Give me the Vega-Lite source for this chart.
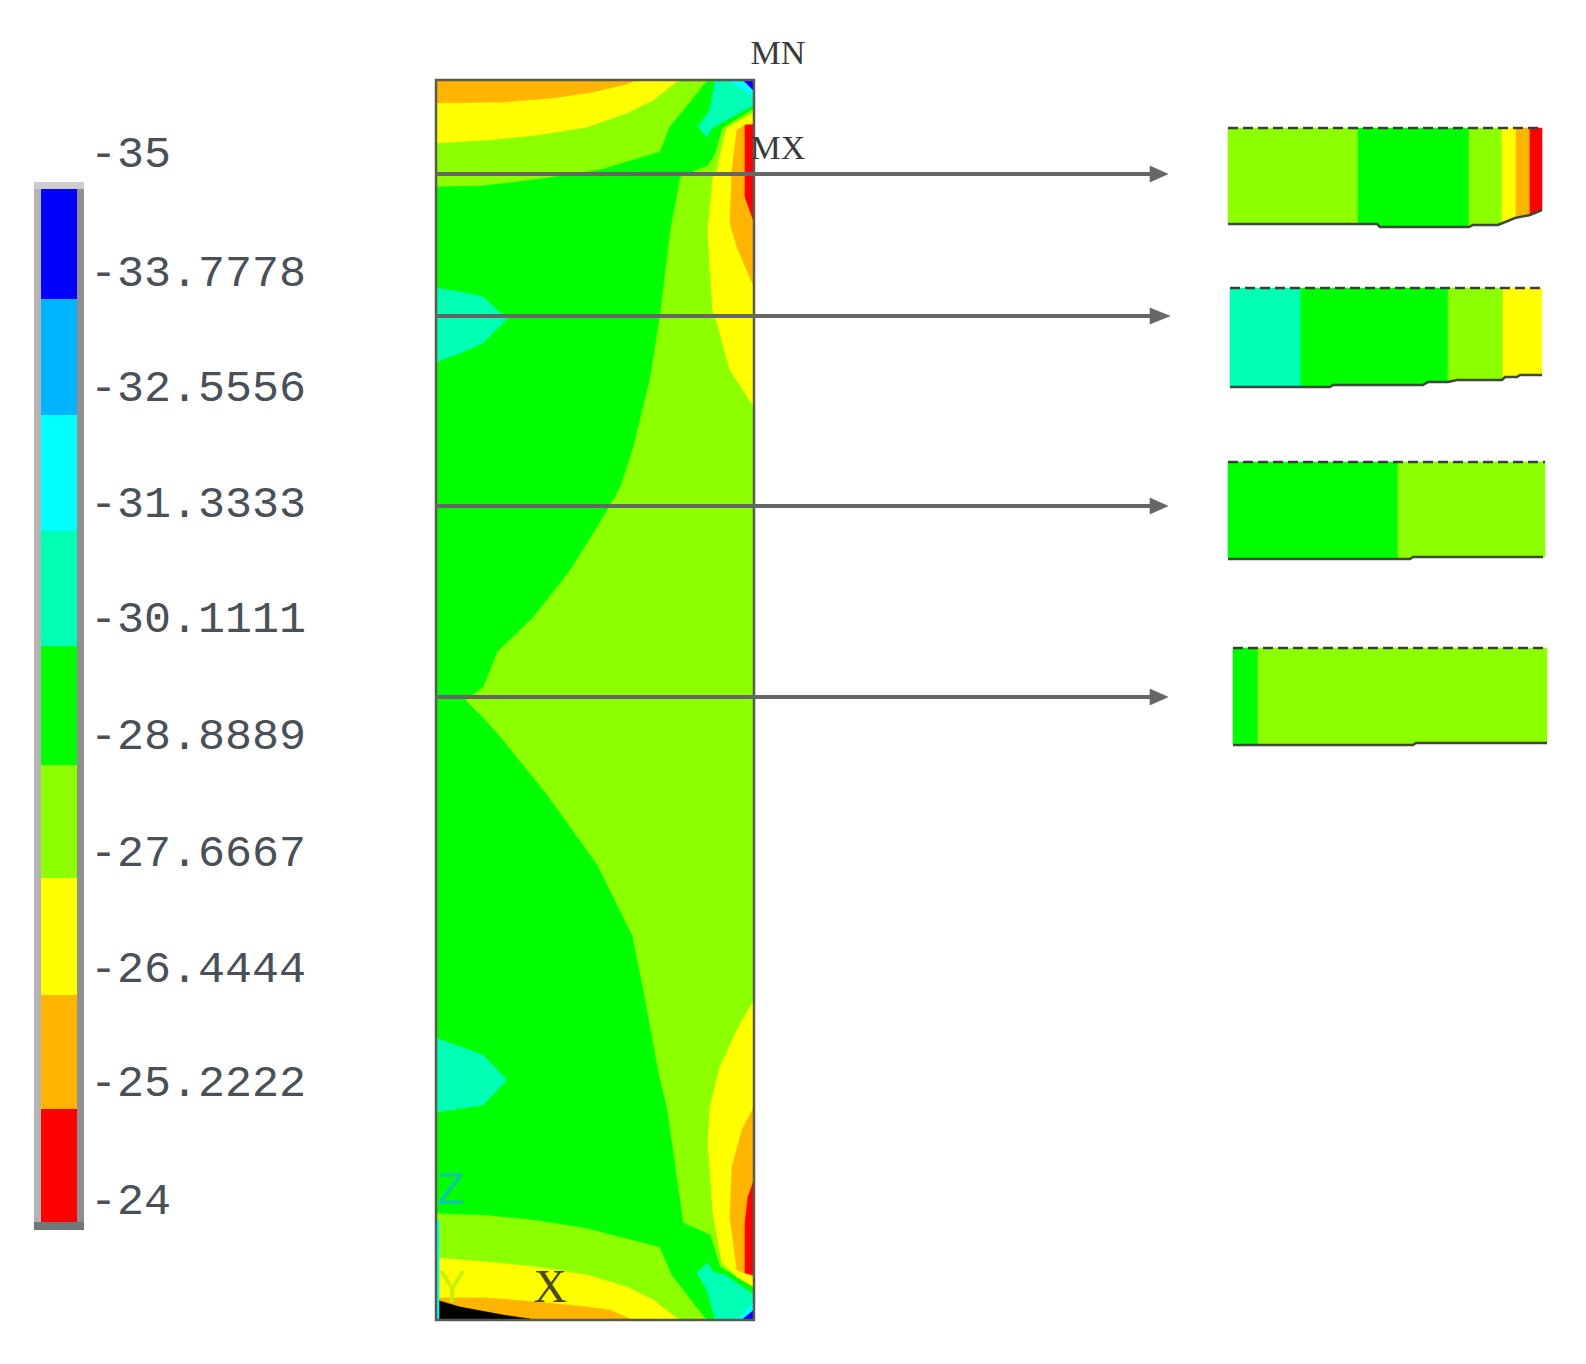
{"$schema":"https://vega.github.io/schema/vega-lite/v6.json","width":1586,"height":1364,"autosize":{"type":"fit","contains":"padding"},"padding":0,"background":"white","view":{"stroke":null},
"datasets":{
"poly":[
{"s":"p01","i":0,"b":"-28.8889","x":436,"y":80},{"s":"p01","i":1,"b":"-28.8889","x":754,"y":80},{"s":"p01","i":2,"b":"-28.8889","x":754,"y":1320},{"s":"p01","i":3,"b":"-28.8889","x":436,"y":1320},
{"s":"p02","i":0,"b":"-27.6667","x":436,"y":80},{"s":"p02","i":1,"b":"-27.6667","x":679,"y":80},{"s":"p02","i":2,"b":"-27.6667","x":653,"y":100},{"s":"p02","i":3,"b":"-27.6667","x":627,"y":113},{"s":"p02","i":4,"b":"-27.6667","x":587,"y":127},{"s":"p02","i":5,"b":"-27.6667","x":537,"y":135},{"s":"p02","i":6,"b":"-27.6667","x":487,"y":140},{"s":"p02","i":7,"b":"-27.6667","x":436,"y":143},
{"s":"p03","i":0,"b":"-26.4444","x":436,"y":80},{"s":"p03","i":1,"b":"-26.4444","x":636,"y":80},{"s":"p03","i":2,"b":"-26.4444","x":627,"y":84},{"s":"p03","i":3,"b":"-26.4444","x":593,"y":92},{"s":"p03","i":4,"b":"-26.4444","x":553,"y":98},{"s":"p03","i":5,"b":"-26.4444","x":503,"y":102},{"s":"p03","i":6,"b":"-26.4444","x":436,"y":103},
{"s":"p04","i":0,"b":"-30.1111","x":436,"y":187},{"s":"p04","i":1,"b":"-30.1111","x":483,"y":186},{"s":"p04","i":2,"b":"-30.1111","x":533,"y":180},{"s":"p04","i":3,"b":"-30.1111","x":560,"y":176},{"s":"p04","i":4,"b":"-30.1111","x":600,"y":170},{"s":"p04","i":5,"b":"-30.1111","x":660,"y":152},{"s":"p04","i":6,"b":"-30.1111","x":670,"y":127},{"s":"p04","i":7,"b":"-30.1111","x":708,"y":80},{"s":"p04","i":8,"b":"-30.1111","x":754,"y":80},{"s":"p04","i":9,"b":"-30.1111","x":754,"y":108},{"s":"p04","i":10,"b":"-30.1111","x":722,"y":128},{"s":"p04","i":11,"b":"-30.1111","x":715,"y":153},{"s":"p04","i":12,"b":"-30.1111","x":708,"y":165},{"s":"p04","i":13,"b":"-30.1111","x":680,"y":177},{"s":"p04","i":14,"b":"-30.1111","x":670,"y":230},{"s":"p04","i":15,"b":"-30.1111","x":660,"y":313},{"s":"p04","i":16,"b":"-30.1111","x":650,"y":377},{"s":"p04","i":17,"b":"-30.1111","x":633,"y":447},{"s":"p04","i":18,"b":"-30.1111","x":620,"y":487},{"s":"p04","i":19,"b":"-30.1111","x":607,"y":510},{"s":"p04","i":20,"b":"-30.1111","x":570,"y":570},{"s":"p04","i":21,"b":"-30.1111","x":533,"y":617},{"s":"p04","i":22,"b":"-30.1111","x":497,"y":652},{"s":"p04","i":23,"b":"-30.1111","x":483,"y":687},{"s":"p04","i":24,"b":"-30.1111","x":472,"y":695},{"s":"p04","i":25,"b":"-30.1111","x":465,"y":700},{"s":"p04","i":26,"b":"-30.1111","x":483,"y":718},{"s":"p04","i":27,"b":"-30.1111","x":501,"y":738},{"s":"p04","i":28,"b":"-30.1111","x":546,"y":794},{"s":"p04","i":29,"b":"-30.1111","x":597,"y":865},{"s":"p04","i":30,"b":"-30.1111","x":632,"y":936},{"s":"p04","i":31,"b":"-30.1111","x":645,"y":1000},{"s":"p04","i":32,"b":"-30.1111","x":658,"y":1072},{"s":"p04","i":33,"b":"-30.1111","x":667,"y":1110},{"s":"p04","i":34,"b":"-30.1111","x":683,"y":1223},{"s":"p04","i":35,"b":"-30.1111","x":710,"y":1235},{"s":"p04","i":36,"b":"-30.1111","x":720,"y":1267},{"s":"p04","i":37,"b":"-30.1111","x":754,"y":1287},{"s":"p04","i":38,"b":"-30.1111","x":754,"y":1320},{"s":"p04","i":39,"b":"-30.1111","x":707,"y":1320},{"s":"p04","i":40,"b":"-30.1111","x":672,"y":1275},{"s":"p04","i":41,"b":"-30.1111","x":660,"y":1247},{"s":"p04","i":42,"b":"-30.1111","x":587,"y":1228},{"s":"p04","i":43,"b":"-30.1111","x":537,"y":1220},{"s":"p04","i":44,"b":"-30.1111","x":487,"y":1215},{"s":"p04","i":45,"b":"-30.1111","x":436,"y":1213},
{"s":"p05","i":0,"b":"-31.3333","x":715,"y":81},{"s":"p05","i":1,"b":"-31.3333","x":710,"y":110},{"s":"p05","i":2,"b":"-31.3333","x":698,"y":127},{"s":"p05","i":3,"b":"-31.3333","x":707,"y":137},{"s":"p05","i":4,"b":"-31.3333","x":712,"y":128},{"s":"p05","i":5,"b":"-31.3333","x":750,"y":107},{"s":"p05","i":6,"b":"-31.3333","x":754,"y":105},{"s":"p05","i":7,"b":"-31.3333","x":754,"y":81},
{"s":"p06","i":0,"b":"-32.5556","x":730,"y":81},{"s":"p06","i":1,"b":"-32.5556","x":754,"y":97},{"s":"p06","i":2,"b":"-32.5556","x":754,"y":81},
{"s":"p07","i":0,"b":"-35","x":744,"y":81},{"s":"p07","i":1,"b":"-35","x":754,"y":91},{"s":"p07","i":2,"b":"-35","x":754,"y":81},
{"s":"p08","i":0,"b":"-27.6667","x":754,"y":113},{"s":"p08","i":1,"b":"-27.6667","x":727,"y":128},{"s":"p08","i":2,"b":"-27.6667","x":722,"y":147},{"s":"p08","i":3,"b":"-27.6667","x":717,"y":170},{"s":"p08","i":4,"b":"-27.6667","x":713,"y":177},{"s":"p08","i":5,"b":"-27.6667","x":708,"y":230},{"s":"p08","i":6,"b":"-27.6667","x":710,"y":270},{"s":"p08","i":7,"b":"-27.6667","x":713,"y":313},{"s":"p08","i":8,"b":"-27.6667","x":717,"y":323},{"s":"p08","i":9,"b":"-27.6667","x":730,"y":370},{"s":"p08","i":10,"b":"-27.6667","x":754,"y":407},
{"s":"p09","i":0,"b":"-26.4444","x":754,"y":123},{"s":"p09","i":1,"b":"-26.4444","x":745,"y":125},{"s":"p09","i":2,"b":"-26.4444","x":737,"y":130},{"s":"p09","i":3,"b":"-26.4444","x":732,"y":170},{"s":"p09","i":4,"b":"-26.4444","x":730,"y":223},{"s":"p09","i":5,"b":"-26.4444","x":737,"y":247},{"s":"p09","i":6,"b":"-26.4444","x":754,"y":287},
{"s":"p10","i":0,"b":"-25.2222","x":745,"y":125},{"s":"p10","i":1,"b":"-25.2222","x":754,"y":125},{"s":"p10","i":2,"b":"-25.2222","x":754,"y":222},{"s":"p10","i":3,"b":"-25.2222","x":745,"y":197},{"s":"p10","i":4,"b":"-25.2222","x":745,"y":173},
{"s":"p11","i":0,"b":"-31.3333","x":436,"y":288},{"s":"p11","i":1,"b":"-31.3333","x":467,"y":293},{"s":"p11","i":2,"b":"-31.3333","x":483,"y":297},{"s":"p11","i":3,"b":"-31.3333","x":507,"y":319},{"s":"p11","i":4,"b":"-31.3333","x":483,"y":343},{"s":"p11","i":5,"b":"-31.3333","x":463,"y":352},{"s":"p11","i":6,"b":"-31.3333","x":436,"y":362},
{"s":"p12","i":0,"b":"-31.3333","x":436,"y":1038},{"s":"p12","i":1,"b":"-31.3333","x":483,"y":1055},{"s":"p12","i":2,"b":"-31.3333","x":507,"y":1080},{"s":"p12","i":3,"b":"-31.3333","x":483,"y":1105},{"s":"p12","i":4,"b":"-31.3333","x":463,"y":1108},{"s":"p12","i":5,"b":"-31.3333","x":436,"y":1112},
{"s":"p13","i":0,"b":"-27.6667","x":754,"y":1000},{"s":"p13","i":1,"b":"-27.6667","x":737,"y":1030},{"s":"p13","i":2,"b":"-27.6667","x":720,"y":1067},{"s":"p13","i":3,"b":"-27.6667","x":710,"y":1107},{"s":"p13","i":4,"b":"-27.6667","x":708,"y":1143},{"s":"p13","i":5,"b":"-27.6667","x":713,"y":1213},{"s":"p13","i":6,"b":"-27.6667","x":722,"y":1263},{"s":"p13","i":7,"b":"-27.6667","x":737,"y":1277},{"s":"p13","i":8,"b":"-27.6667","x":754,"y":1287},
{"s":"p14","i":0,"b":"-26.4444","x":754,"y":1107},{"s":"p14","i":1,"b":"-26.4444","x":742,"y":1130},{"s":"p14","i":2,"b":"-26.4444","x":732,"y":1167},{"s":"p14","i":3,"b":"-26.4444","x":730,"y":1217},{"s":"p14","i":4,"b":"-26.4444","x":737,"y":1270},{"s":"p14","i":5,"b":"-26.4444","x":754,"y":1277},
{"s":"p15","i":0,"b":"-25.2222","x":754,"y":1180},{"s":"p15","i":1,"b":"-25.2222","x":748,"y":1197},{"s":"p15","i":2,"b":"-25.2222","x":745,"y":1223},{"s":"p15","i":3,"b":"-25.2222","x":745,"y":1273},{"s":"p15","i":4,"b":"-25.2222","x":754,"y":1275},
{"s":"p16","i":0,"b":"-27.6667","x":436,"y":1258},{"s":"p16","i":1,"b":"-27.6667","x":487,"y":1262},{"s":"p16","i":2,"b":"-27.6667","x":537,"y":1267},{"s":"p16","i":3,"b":"-27.6667","x":587,"y":1275},{"s":"p16","i":4,"b":"-27.6667","x":627,"y":1287},{"s":"p16","i":5,"b":"-27.6667","x":653,"y":1300},{"s":"p16","i":6,"b":"-27.6667","x":679,"y":1320},{"s":"p16","i":7,"b":"-27.6667","x":436,"y":1320},
{"s":"p17","i":0,"b":"-26.4444","x":436,"y":1298},{"s":"p17","i":1,"b":"-26.4444","x":487,"y":1298},{"s":"p17","i":2,"b":"-26.4444","x":537,"y":1302},{"s":"p17","i":3,"b":"-26.4444","x":587,"y":1307},{"s":"p17","i":4,"b":"-26.4444","x":610,"y":1310},{"s":"p17","i":5,"b":"-26.4444","x":632,"y":1320},{"s":"p17","i":6,"b":"-26.4444","x":436,"y":1320},
{"s":"p18","i":0,"b":"below","x":436,"y":1300},{"s":"p18","i":1,"b":"below","x":460,"y":1307},{"s":"p18","i":2,"b":"below","x":503,"y":1315},{"s":"p18","i":3,"b":"below","x":530,"y":1319},{"s":"p18","i":4,"b":"below","x":436,"y":1319},
{"s":"p19","i":0,"b":"-31.3333","x":707,"y":1263},{"s":"p19","i":1,"b":"-31.3333","x":697,"y":1273},{"s":"p19","i":2,"b":"-31.3333","x":707,"y":1290},{"s":"p19","i":3,"b":"-31.3333","x":715,"y":1319},{"s":"p19","i":4,"b":"-31.3333","x":740,"y":1319},{"s":"p19","i":5,"b":"-31.3333","x":754,"y":1303},{"s":"p19","i":6,"b":"-31.3333","x":754,"y":1295},{"s":"p19","i":7,"b":"-31.3333","x":725,"y":1275},{"s":"p19","i":8,"b":"-31.3333","x":713,"y":1272},
{"s":"p20","i":0,"b":"-32.5556","x":754,"y":1302},{"s":"p20","i":1,"b":"-32.5556","x":738,"y":1319},{"s":"p20","i":2,"b":"-32.5556","x":754,"y":1319},
{"s":"p21","i":0,"b":"-35","x":754,"y":1310},{"s":"p21","i":1,"b":"-35","x":743,"y":1319},{"s":"p21","i":2,"b":"-35","x":754,"y":1319},
{"s":"p22","i":0,"b":"-32.5556","x":436,"y":1220},{"s":"p22","i":1,"b":"-32.5556","x":439,"y":1220},{"s":"p22","i":2,"b":"-32.5556","x":439,"y":1320},{"s":"p22","i":3,"b":"-32.5556","x":436,"y":1320},
{"s":"q01","i":0,"b":"-28.8889","x":1228,"y":128},{"s":"q01","i":1,"b":"-28.8889","x":1358,"y":128},{"s":"q01","i":2,"b":"-28.8889","x":1358,"y":224},{"s":"q01","i":3,"b":"-28.8889","x":1228,"y":224},
{"s":"q02","i":0,"b":"-30.1111","x":1358,"y":128},{"s":"q02","i":1,"b":"-30.1111","x":1469,"y":128},{"s":"q02","i":2,"b":"-30.1111","x":1469,"y":227},{"s":"q02","i":3,"b":"-30.1111","x":1380,"y":227},{"s":"q02","i":4,"b":"-30.1111","x":1377,"y":224},{"s":"q02","i":5,"b":"-30.1111","x":1358,"y":224},
{"s":"q03","i":0,"b":"-28.8889","x":1469,"y":128},{"s":"q03","i":1,"b":"-28.8889","x":1502,"y":128},{"s":"q03","i":2,"b":"-28.8889","x":1502,"y":224},{"s":"q03","i":3,"b":"-28.8889","x":1473,"y":225},{"s":"q03","i":4,"b":"-28.8889","x":1469,"y":227},
{"s":"q04","i":0,"b":"-27.6667","x":1502,"y":128},{"s":"q04","i":1,"b":"-27.6667","x":1516,"y":128},{"s":"q04","i":2,"b":"-27.6667","x":1516,"y":218},{"s":"q04","i":3,"b":"-27.6667","x":1502,"y":224},
{"s":"q05","i":0,"b":"-26.4444","x":1516,"y":128},{"s":"q05","i":1,"b":"-26.4444","x":1530,"y":128},{"s":"q05","i":2,"b":"-26.4444","x":1530,"y":215},{"s":"q05","i":3,"b":"-26.4444","x":1516,"y":218},
{"s":"q06","i":0,"b":"-25.2222","x":1530,"y":128},{"s":"q06","i":1,"b":"-25.2222","x":1542,"y":128},{"s":"q06","i":2,"b":"-25.2222","x":1542,"y":210},{"s":"q06","i":3,"b":"-25.2222","x":1530,"y":215},
{"s":"r01","i":0,"b":"-31.3333","x":1230,"y":288},{"s":"r01","i":1,"b":"-31.3333","x":1301,"y":288},{"s":"r01","i":2,"b":"-31.3333","x":1301,"y":387},{"s":"r01","i":3,"b":"-31.3333","x":1230,"y":387},
{"s":"r02","i":0,"b":"-30.1111","x":1301,"y":288},{"s":"r02","i":1,"b":"-30.1111","x":1448,"y":288},{"s":"r02","i":2,"b":"-30.1111","x":1448,"y":382},{"s":"r02","i":3,"b":"-30.1111","x":1428,"y":382},{"s":"r02","i":4,"b":"-30.1111","x":1423,"y":385},{"s":"r02","i":5,"b":"-30.1111","x":1333,"y":385},{"s":"r02","i":6,"b":"-30.1111","x":1330,"y":387},{"s":"r02","i":7,"b":"-30.1111","x":1301,"y":387},
{"s":"r03","i":0,"b":"-28.8889","x":1448,"y":288},{"s":"r03","i":1,"b":"-28.8889","x":1503,"y":288},{"s":"r03","i":2,"b":"-28.8889","x":1503,"y":380},{"s":"r03","i":3,"b":"-28.8889","x":1457,"y":380},{"s":"r03","i":4,"b":"-28.8889","x":1448,"y":382},
{"s":"r04","i":0,"b":"-27.6667","x":1503,"y":288},{"s":"r04","i":1,"b":"-27.6667","x":1542,"y":288},{"s":"r04","i":2,"b":"-27.6667","x":1542,"y":375},{"s":"r04","i":3,"b":"-27.6667","x":1520,"y":375},{"s":"r04","i":4,"b":"-27.6667","x":1517,"y":377},{"s":"r04","i":5,"b":"-27.6667","x":1505,"y":377},{"s":"r04","i":6,"b":"-27.6667","x":1503,"y":380},
{"s":"t01","i":0,"b":"-30.1111","x":1228,"y":462},{"s":"t01","i":1,"b":"-30.1111","x":1398,"y":462},{"s":"t01","i":2,"b":"-30.1111","x":1398,"y":559},{"s":"t01","i":3,"b":"-30.1111","x":1228,"y":559},
{"s":"t02","i":0,"b":"-28.8889","x":1398,"y":462},{"s":"t02","i":1,"b":"-28.8889","x":1545,"y":462},{"s":"t02","i":2,"b":"-28.8889","x":1545,"y":557},{"s":"t02","i":3,"b":"-28.8889","x":1413,"y":557},{"s":"t02","i":4,"b":"-28.8889","x":1410,"y":559},{"s":"t02","i":5,"b":"-28.8889","x":1398,"y":559},
{"s":"u01","i":0,"b":"-30.1111","x":1233,"y":648},{"s":"u01","i":1,"b":"-30.1111","x":1258,"y":648},{"s":"u01","i":2,"b":"-30.1111","x":1258,"y":745},{"s":"u01","i":3,"b":"-30.1111","x":1233,"y":745},
{"s":"u02","i":0,"b":"-28.8889","x":1258,"y":648},{"s":"u02","i":1,"b":"-28.8889","x":1547,"y":648},{"s":"u02","i":2,"b":"-28.8889","x":1547,"y":743},{"s":"u02","i":3,"b":"-28.8889","x":1416,"y":743},{"s":"u02","i":4,"b":"-28.8889","x":1413,"y":745},{"s":"u02","i":5,"b":"-28.8889","x":1258,"y":745},
{"s":"v1","i":0,"b":"arrow","x":1150,"y":166},{"s":"v1","i":1,"b":"arrow","x":1168,"y":174},{"s":"v1","i":2,"b":"arrow","x":1150,"y":182},
{"s":"v2","i":0,"b":"arrow","x":1150,"y":308},{"s":"v2","i":1,"b":"arrow","x":1170,"y":316},{"s":"v2","i":2,"b":"arrow","x":1150,"y":324},
{"s":"v3","i":0,"b":"arrow","x":1150,"y":498},{"s":"v3","i":1,"b":"arrow","x":1168,"y":506},{"s":"v3","i":2,"b":"arrow","x":1150,"y":514},
{"s":"v4","i":0,"b":"arrow","x":1150,"y":689},{"s":"v4","i":1,"b":"arrow","x":1168,"y":697},{"s":"v4","i":2,"b":"arrow","x":1150,"y":705}
],
"bars":[
{"b":"frameL","x":34,"x2":41,"y":182,"y2":1230},{"b":"frameR","x":77,"x2":84,"y":182,"y2":1230},{"b":"frameT","x":34,"x2":84,"y":182,"y2":189},{"b":"frameB","x":34,"x2":84,"y":1222,"y2":1230},
{"b":"-35","x":41,"x2":77,"y":189,"y2":299},{"b":"-33.7778","x":41,"x2":77,"y":299,"y2":415},{"b":"-32.5556","x":41,"x2":77,"y":415,"y2":531},{"b":"-31.3333","x":41,"x2":77,"y":531,"y2":646},{"b":"-30.1111","x":41,"x2":77,"y":646,"y2":765},{"b":"-28.8889","x":41,"x2":77,"y":765,"y2":878},{"b":"-27.6667","x":41,"x2":77,"y":878,"y2":995},{"b":"-26.4444","x":41,"x2":77,"y":995,"y2":1109},{"b":"-25.2222","x":41,"x2":77,"y":1109,"y2":1222}
],
"labels":[{"t":"-35","x":90,"y":153},{"t":"-33.7778","x":90,"y":272},{"t":"-32.5556","x":90,"y":387},{"t":"-31.3333","x":90,"y":503},{"t":"-30.1111","x":90,"y":618},{"t":"-28.8889","x":90,"y":735},{"t":"-27.6667","x":90,"y":852},{"t":"-26.4444","x":90,"y":968},{"t":"-25.2222","x":90,"y":1082},{"t":"-24","x":90,"y":1200}],
"arrows":[{"x":436,"x2":1155,"y":174},{"x":436,"x2":1155,"y":316},{"x":436,"x2":1155,"y":506},{"x":436,"x2":1155,"y":697}],
"tops":[{"x":1228,"x2":1542,"y":128},{"x":1230,"x2":1542,"y":288},{"x":1228,"x2":1545,"y":462},{"x":1233,"x2":1547,"y":648}],
"bottoms":[
{"s":"a","i":0,"x":1228,"y":224},{"s":"a","i":1,"x":1377,"y":224},{"s":"a","i":2,"x":1380,"y":227},{"s":"a","i":3,"x":1469,"y":227},{"s":"a","i":4,"x":1473,"y":225},{"s":"a","i":5,"x":1498,"y":225},{"s":"a","i":6,"x":1515,"y":218},{"s":"a","i":7,"x":1530,"y":215},{"s":"a","i":8,"x":1542,"y":210},
{"s":"b","i":0,"x":1230,"y":387},{"s":"b","i":1,"x":1330,"y":387},{"s":"b","i":2,"x":1333,"y":385},{"s":"b","i":3,"x":1423,"y":385},{"s":"b","i":4,"x":1428,"y":382},{"s":"b","i":5,"x":1448,"y":382},{"s":"b","i":6,"x":1457,"y":380},{"s":"b","i":7,"x":1502,"y":380},{"s":"b","i":8,"x":1505,"y":377},{"s":"b","i":9,"x":1517,"y":377},{"s":"b","i":10,"x":1520,"y":375},{"s":"b","i":11,"x":1542,"y":375},
{"s":"c","i":0,"x":1228,"y":559},{"s":"c","i":1,"x":1410,"y":559},{"s":"c","i":2,"x":1413,"y":557},{"s":"c","i":3,"x":1543,"y":557},
{"s":"d","i":0,"x":1233,"y":745},{"s":"d","i":1,"x":1413,"y":745},{"s":"d","i":2,"x":1416,"y":743},{"s":"d","i":3,"x":1547,"y":743}
]
},
"encoding":{
"x":{"field":"x","type":"quantitative","scale":{"domain":[0,1586],"nice":false,"zero":false},"axis":null},
"y":{"field":"y","type":"quantitative","scale":{"domain":[1364,0],"nice":false,"zero":false},"axis":null}
},
"layer":[
{"data":{"name":"poly"},"mark":{"type":"line","interpolate":"linear-closed","strokeWidth":0.6,"clip":false},
"encoding":{"detail":{"field":"s"},"order":{"field":"i","type":"quantitative"},
"fill":{"field":"b","type":"nominal","legend":null,"scale":{"domain":["-35","-33.7778","-32.5556","-31.3333","-30.1111","-28.8889","-27.6667","-26.4444","-25.2222","below","arrow","frameL","frameR","frameT","frameB"],"range":["#0000FF","#00B4FF","#00FFFF","#00FFB4","#00FF00","#8CFF00","#FFFF00","#FFB400","#FF0000","#000000","#666666","#B4B4B4","#8F8F8F","#CDCDCD","#6E7878"]}},
"stroke":{"field":"b","type":"nominal","legend":null,"scale":{"domain":["-35","-33.7778","-32.5556","-31.3333","-30.1111","-28.8889","-27.6667","-26.4444","-25.2222","below","arrow"],"range":["#0000FF","#00B4FF","#00FFFF","#00FFB4","#00FF00","#8CFF00","#FFFF00","#FFB400","#FF0000","#000000","#666666"]}}}},
{"data":{"name":"bars"},"mark":{"type":"rect"},
"encoding":{"x2":{"field":"x2"},"y2":{"field":"y2"},
"fill":{"field":"b","type":"nominal","legend":null}}},
{"data":{"values":[{"x":436,"x2":754,"y":80,"y2":1320}]},"mark":{"type":"rect","fill":"transparent","stroke":"#5a5a50","strokeWidth":2.5},"encoding":{"x2":{"field":"x2"},"y2":{"field":"y2"}}},
{"data":{"name":"arrows"},"mark":{"type":"rule","color":"#666666","strokeWidth":4},"encoding":{"x2":{"field":"x2"}}},
{"data":{"name":"tops"},"mark":{"type":"rule","color":"#3c3c3c","strokeWidth":2.5,"strokeDash":[10,5]},"encoding":{"x2":{"field":"x2"}}},
{"data":{"name":"bottoms"},"mark":{"type":"line","color":"#3c4a3c","strokeWidth":2.5},"encoding":{"detail":{"field":"s"},"order":{"field":"i","type":"quantitative"}}},
{"data":{"name":"labels"},"mark":{"type":"text","font":"Liberation Mono","fontSize":45,"align":"left","baseline":"middle","color":"#4a5058"},"encoding":{"text":{"field":"t"}}},
{"data":{"values":[{"t":"MN","x":778,"y":54},{"t":"MX","x":778,"y":149}]},"mark":{"type":"text","font":"Liberation Serif","fontSize":34,"align":"center","baseline":"middle","color":"#3a3a3a"},"encoding":{"text":{"field":"t"}}},
{"data":{"values":[{"t":"X","x":550,"y":1288}]},"mark":{"type":"text","font":"Liberation Serif","fontSize":46,"align":"center","baseline":"middle","color":"#4a4a10"},"encoding":{"text":{"field":"t"}}},
{"data":{"values":[{"t":"Z","x":451,"y":1190}]},"mark":{"type":"text","font":"Liberation Mono","fontSize":46,"align":"center","baseline":"middle","color":"#10C8A0"},"encoding":{"text":{"field":"t"}}},
{"data":{"values":[{"t":"Y","x":452,"y":1288}]},"mark":{"type":"text","font":"Liberation Mono","fontSize":46,"align":"center","baseline":"middle","color":"#C8F000"},"encoding":{"text":{"field":"t"}}}
],
"resolve":{"scale":{"fill":"shared"}}}
